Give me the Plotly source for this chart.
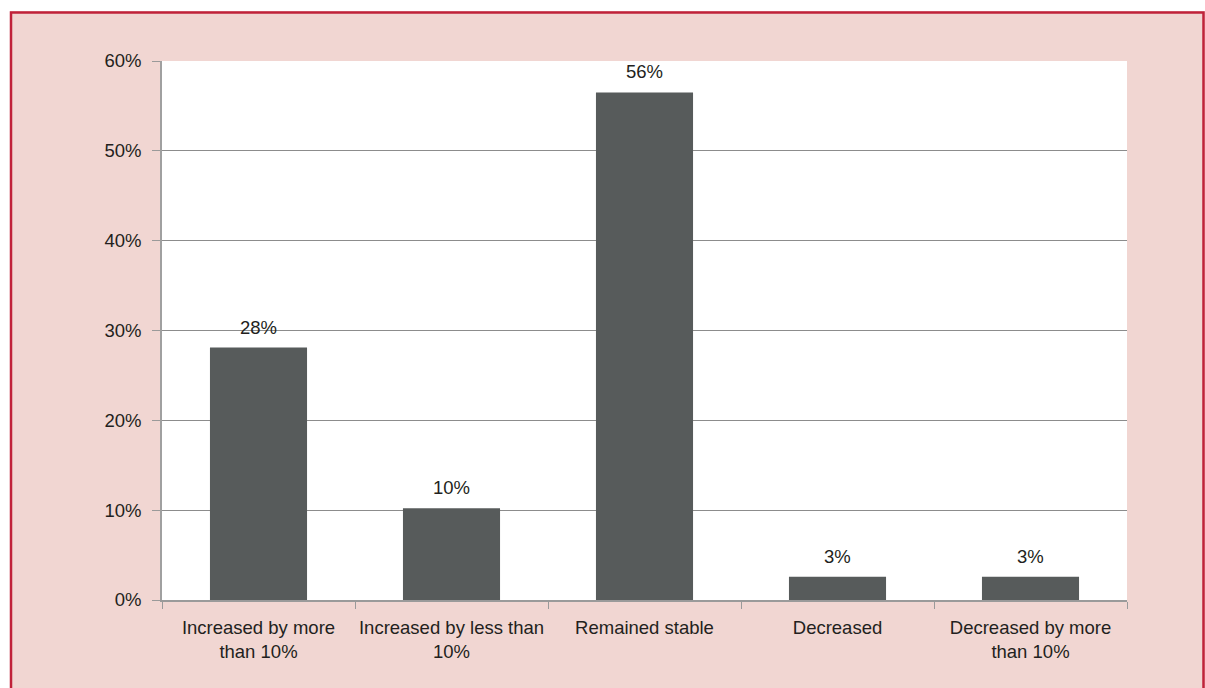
import plotly.graph_objects as go

categories = ["Increased by more<br>than 10%", "Increased by less than<br>10%",
              "Remained stable", "Decreased", "Decreased by more<br>than 10%"]
values = [28.1, 10.2, 56.5, 2.6, 2.6]
y_ticks = [0, 10, 20, 30, 40, 50, 60]
y_tick_labels = [f"{v}%" for v in y_ticks]
bar_labels = [f"{round(v)}%" for v in values]

W, H = 1205, 688
L, R, T, B = 162, 78, 61, 88
pw, ph = W - L - R, H - T - B

FONT = "Liberation Sans, Arial, sans-serif"
FS = 18.5
TXT = "#231f20"

fig = go.Figure(go.Bar(
    x=categories, y=values,
    marker=dict(color="#575b5b", line=dict(width=0)),
    width=0.503,
    hoverinfo="x+y",
))

for c, v, t in zip(categories, values, bar_labels):
    fig.add_annotation(x=c, y=v, text=t, showarrow=False, xref="x", yref="y",
                       yanchor="bottom", yshift=8,
                       font=dict(size=FS, color=TXT, family=FONT))


def px_x(p):
    return (p - L) / pw


def px_y(p):
    return (H - B - p) / ph


fig.update_layout(
    width=W, height=H,
    margin=dict(l=L, r=R, t=T, b=B, autoexpand=False),
    paper_bgcolor="#f1d6d2", plot_bgcolor="#ffffff",
    font=dict(family=FONT, size=FS, color=TXT),
    showlegend=False,
    xaxis=dict(showgrid=False, showline=True, linecolor="#9a9a9a", linewidth=1.5,
               ticks="outside", tickson="boundaries", ticklen=7, tickcolor="#9a9a9a",
               tickangle=0, tickfont=dict(size=FS, color=TXT), ticklabelstandoff=10),
    yaxis=dict(range=[0, 60], tickvals=y_ticks, ticktext=y_tick_labels,
               showgrid=True, gridcolor="#8c8c8c", gridwidth=1,
               showline=True, linecolor="#a0a0a0", linewidth=1.5,
               ticks="outside", ticklen=8, tickcolor="#9a9a9a",
               zeroline=False, tickfont=dict(size=FS, color=TXT),
               ticklabelstandoff=7),
    shapes=[
        # white strips outside the frame
        dict(type="rect", xref="paper", yref="paper", layer="above",
             x0=px_x(-5), x1=px_x(10), y0=px_y(700), y1=px_y(-5),
             line=dict(width=0), fillcolor="#ffffff"),
        dict(type="rect", xref="paper", yref="paper", layer="above",
             x0=px_x(-5), x1=px_x(1210), y0=px_y(11), y1=px_y(-5),
             line=dict(width=0), fillcolor="#ffffff"),
        # red frame
        dict(type="rect", xref="paper", yref="paper", layer="above",
             x0=px_x(11), x1=px_x(1203.5), y0=px_y(720), y1=px_y(12.5),
             line=dict(color="#c0223a", width=2.5), fillcolor="rgba(0,0,0,0)"),
    ],
)

fig.write_html("out.html",
               config={"displayModeBar": False},
               post_script="document.body.style.margin='0';"
                           "document.body.style.overflow='hidden';")
